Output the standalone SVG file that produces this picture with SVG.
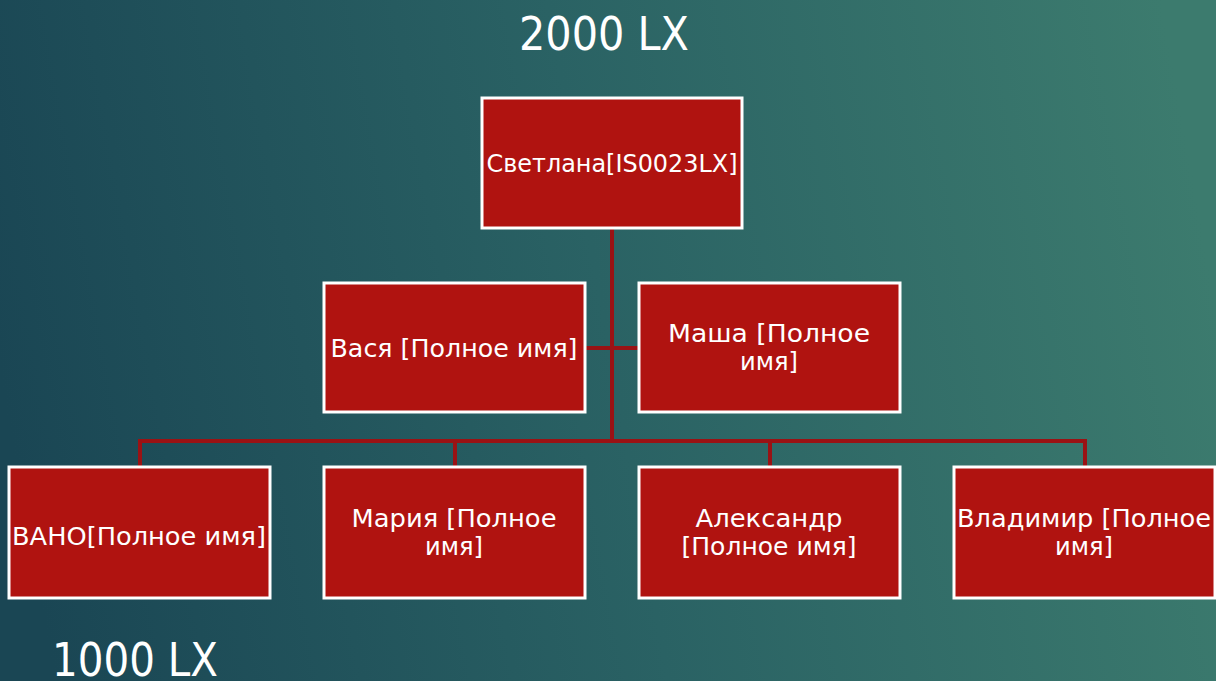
<svg xmlns="http://www.w3.org/2000/svg" width="1216" height="681" viewBox="0 0 1216 681">
<defs>
<linearGradient id="bg" x1="0" y1="0.55" x2="1" y2="0.45">
<stop offset="0" stop-color="#1a4654"/>
<stop offset="0.5" stop-color="#2a6264"/>
<stop offset="1" stop-color="#3c7b6e"/>
</linearGradient>
<style>
.box{fill:#b01310;stroke:#ffffff;stroke-width:3}
.t{font-family:"DejaVu Sans","Liberation Sans",sans-serif;font-size:24px;fill:#ffffff;text-anchor:middle}
.big{font-family:"DejaVu Sans","Liberation Sans",sans-serif;font-size:46px;fill:#ffffff;text-anchor:middle}
.c{stroke:#9a1214;stroke-width:4;fill:none}
</style>
</defs>
<rect x="0" y="0" width="1216" height="681" fill="url(#bg)"/>
<text class="big" x="604" y="50" textLength="170" lengthAdjust="spacingAndGlyphs">2000 LX</text>
<text class="big" x="135" y="676" textLength="166" lengthAdjust="spacingAndGlyphs">1000 LX</text>
<g id="connectors">
<path class="c" d="M612,229 V441"/>
<path class="c" d="M586,348 H638"/>
<path class="c" d="M140,466 V441 H1085 V466"/>
<path class="c" d="M455,441 V466"/>
<path class="c" d="M770,441 V466"/>
</g>
<g id="svetlana">
<rect class="box" x="482" y="98" width="260" height="130"/>
<text class="t" x="612" y="172" textLength="251" lengthAdjust="spacingAndGlyphs">Светлана[IS0023LX]</text>
</g>
<g id="vasya">
<rect class="box" x="324" y="283" width="261" height="129"/>
<text class="t" x="454" y="357" textLength="247" lengthAdjust="spacingAndGlyphs">Вася [Полное имя]</text>
</g>
<g id="masha">
<rect class="box" x="639" y="283" width="261" height="129"/>
<text class="t" x="769" y="342" textLength="202" lengthAdjust="spacingAndGlyphs">Маша [Полное</text>
<text class="t" x="769" y="370" textLength="58" lengthAdjust="spacingAndGlyphs">имя]</text>
</g>
<g id="vano">
<rect class="box" x="9" y="467" width="261" height="131"/>
<text class="t" x="139" y="545" textLength="254" lengthAdjust="spacingAndGlyphs">ВАНО[Полное имя]</text>
</g>
<g id="maria">
<rect class="box" x="324" y="467" width="261" height="131"/>
<text class="t" x="454" y="527" textLength="205" lengthAdjust="spacingAndGlyphs">Мария [Полное</text>
<text class="t" x="454" y="555" textLength="58" lengthAdjust="spacingAndGlyphs">имя]</text>
</g>
<g id="alexandr">
<rect class="box" x="639" y="467" width="261" height="131"/>
<text class="t" x="769" y="527" textLength="147" lengthAdjust="spacingAndGlyphs">Александр</text>
<text class="t" x="769" y="555" textLength="175" lengthAdjust="spacingAndGlyphs">[Полное имя]</text>
</g>
<g id="vladimir">
<rect class="box" x="954" y="467" width="261" height="131"/>
<text class="t" x="1084" y="527" textLength="254" lengthAdjust="spacingAndGlyphs">Владимир [Полное</text>
<text class="t" x="1084" y="555" textLength="58" lengthAdjust="spacingAndGlyphs">имя]</text>
</g>
</svg>
